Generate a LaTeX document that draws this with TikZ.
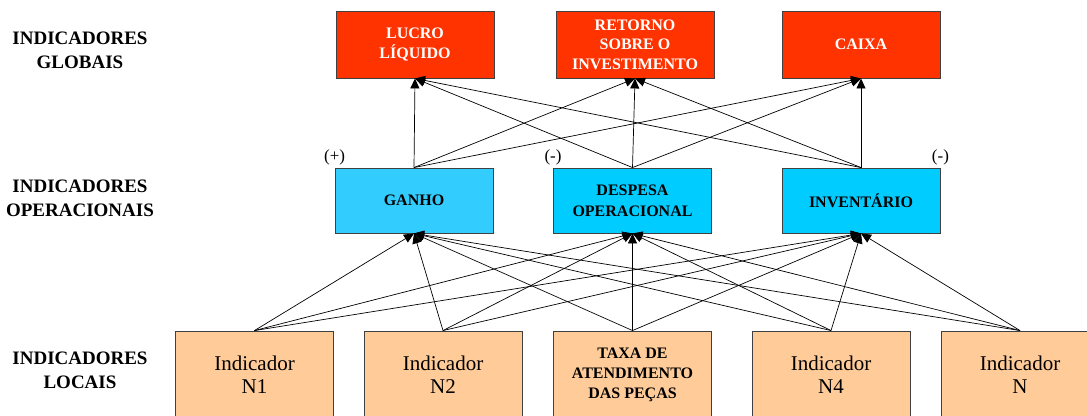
\documentclass[tikz,border=0pt]{standalone}
\usepackage{fontspec}
\setmainfont{Liberation Serif}
\usetikzlibrary{arrows.meta}
\definecolor{globred}{HTML}{FF3300}
\definecolor{opercyan}{HTML}{00CCFF}
\definecolor{opercyanlt}{HTML}{33CCFF}
\definecolor{localpeach}{HTML}{FFCC99}

\begin{document}
\begin{tikzpicture}[x=1pt,y=-1pt,->,>={Triangle[length=10pt,width=9pt]},line width=0.7pt,
  box/.style={draw=black!75,line width=0.9pt,minimum width=158pt,align=center,inner sep=2pt},
  global node/.style={box,fill=globred,minimum height=67pt,text=white,font=\fontsize{16}{19.5}\selectfont\bfseries},
  oper node/.style={box,fill=opercyan,minimum height=65pt,font=\fontsize{16}{21}\selectfont\bfseries},
  local node/.style={box,fill=localpeach,minimum height=88pt,font=\fontsize{21}{23}\selectfont},
  level label/.style={align=center,font=\fontsize{19}{24}\selectfont\bfseries},
  sign/.style={inner sep=1pt,font=\fontsize{17}{19}\selectfont}]
  \useasboundingbox (0,0) rectangle (1087,415);

  % niveis
  \node[level label] (lblglobal) at (80,50) {INDICADORES\\GLOBAIS};
  \node[level label] (lbloper) at (80,198) {INDICADORES\\OPERACIONAIS};
  \node[level label] (lbllocal) at (80,370) {INDICADORES\\LOCAIS};

  \node[global node] (lucro) at (415,44.5) {LUCRO\\LÍQUIDO};
  \node[global node] (retorno) at (635,44.5) {RETORNO\\SOBRE O\\INVESTIMENTO};
  \node[global node] (caixa) at (861,44.5) {CAIXA};

  \node[oper node,fill=opercyanlt] (ganho) at (414,200.5) {GANHO};
  \node[oper node] (despesa) at (632.5,200.5) {DESPESA\\OPERACIONAL};
  \node[oper node] (inventario) at (861,200.5) {INVENTÁRIO};

  \node[sign,anchor=south] at ([yshift=1pt]ganho.north west) {(+)};
  \node[sign,anchor=south] at ([yshift=1pt]despesa.north west) {(-)};
  \node[sign,anchor=south] at ([yshift=1pt]inventario.north east) {(-)};

  \node[local node] (n1) at (254.5,375) {Indicador\\N1};
  \node[local node] (n2) at (443,375) {Indicador\\N2};
  \node[local node,font=\fontsize{16}{20}\selectfont\bfseries] (taxa) at (632.5,375) {TAXA DE\\ATENDIMENTO\\DAS PEÇAS};
  \node[local node] (n4) at (831,375) {Indicador\\N4};
  \node[local node] (nN) at (1020,375) {Indicador\\N};

  \path (ganho.north) edge (lucro.south) edge (retorno.south) edge (caixa.south);
  \path (despesa.north) edge (lucro.south) edge (retorno.south) edge (caixa.south);
  \path (inventario.north) edge (lucro.south) edge (retorno.south) edge (caixa.south);

  \path (n1.north) edge (ganho.south) edge (despesa.south) edge (inventario.south);
  \path (n2.north) edge (ganho.south) edge (despesa.south) edge (inventario.south);
  \path (taxa.north) edge (ganho.south) edge (despesa.south) edge (inventario.south);
  \path (n4.north) edge (ganho.south) edge (despesa.south) edge (inventario.south);
  \path (nN.north) edge (ganho.south) edge (despesa.south) edge (inventario.south);

\end{tikzpicture}
\end{document}
